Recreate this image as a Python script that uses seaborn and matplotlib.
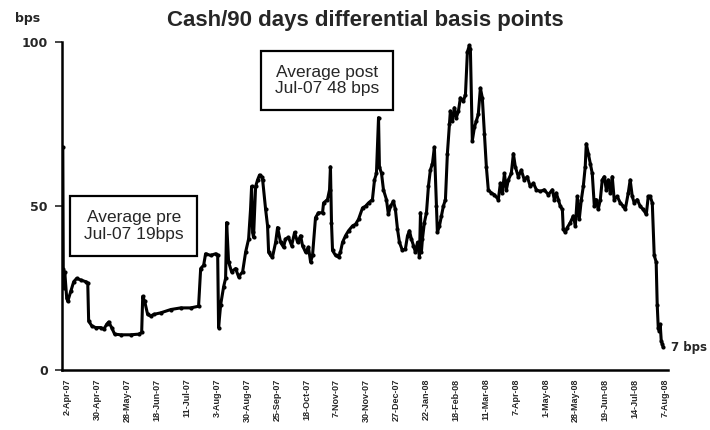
import matplotlib
matplotlib.use("Agg")
import matplotlib.pyplot as plt
import seaborn as sns
import pandas as pd

# trading-day number (0 = 2-Apr-07) and differential in bps
day = [-3.3, -3.0, -2.7, -2.0, -0.7, 0.0, 2.0, 4.0, 6.0, 8.7, 12.0, 13.4, 14.0, 16.1, 18.7,
       22.1, 24.1, 26.1, 27.4, 29.4, 31.4, 35.5, 42.1, 47.5, 49.5, 50.2, 51.5, 53.5, 55.5,
       57.5, 62.3, 69.0, 75.6, 82.3, 87.6, 89.0, 91.0, 92.3, 95.7, 99.0, 100.4, 101.0,
       102.4, 104.4, 105.7, 106.4, 107.7, 109.7, 112.4, 114.4, 117.1, 119.1, 121.1, 122.4,
       123.1, 123.8, 124.4, 125.8, 127.1, 128.4, 129.8, 130.5, 132.5, 133.8, 134.5, 135.8,
       137.1, 139.2, 140.5, 142.5, 144.5, 145.8, 147.8, 149.9, 151.9, 153.9, 155.9, 157.2,
       159.2, 161.2, 162.6, 163.9, 165.9, 167.9, 170.6, 171.3, 173.9, 175.3, 175.9, 176.6,
       177.3, 179.3, 181.3, 182.6, 184.0, 186.0, 188.0, 190.7, 192.7, 194.7, 197.4, 199.4,
       201.4, 204.0, 205.4, 206.7, 208.1, 208.7, 210.1, 211.4, 213.4, 214.7, 216.1, 218.1,
       219.4, 220.8, 222.1, 224.1, 226.1, 227.5, 228.8, 230.1, 231.5, 232.8, 234.2, 235.5,
       236.2, 236.8, 237.5, 238.8, 240.2, 241.5, 242.8, 244.2, 245.5, 246.9, 247.5, 248.9,
       250.2, 251.5, 252.9, 254.2, 255.6, 256.2, 257.6, 258.9, 260.2, 261.6, 262.9, 264.9,
       266.3, 267.6, 268.9, 269.6, 270.9, 272.3, 273.6, 274.9, 276.3, 277.6, 279.0, 280.3,
       281.6, 283.7, 285.7, 288.3, 289.7, 291.0, 292.4, 293.7, 295.0, 297.0, 298.4, 299.7,
       301.7, 303.7, 305.7, 307.7, 309.7, 311.8, 313.8, 316.4, 319.1, 321.8, 324.5, 325.8,
       327.1, 328.5, 329.8, 331.2, 331.8, 333.2, 334.5, 336.5, 338.5, 339.9, 341.2, 342.5,
       343.9, 345.2, 346.5, 347.2, 348.6, 349.9, 351.2, 352.6, 353.9, 355.2, 356.6, 357.9,
       359.3, 360.6, 361.9, 363.3, 364.6, 365.9, 367.9, 370.0, 372.0, 373.3, 375.3, 376.6,
       378.0, 379.3, 381.3, 383.3, 385.3, 387.4, 388.7, 390.0, 391.4, 392.7, 394.0, 394.7,
       395.4, 396.1, 396.7, 397.4, 398.1, 398.7]
bps = [68, 31, 25, 30, 22, 21, 24, 27, 28, 27.5, 27, 26.5, 15, 13.5, 13,
       13, 12.5, 14, 14.7, 13, 11, 10.8, 10.8, 11, 11.5, 22.5, 21, 17, 16.5,
       17, 17.5, 18.5, 19, 19, 19.5, 31, 32, 35.5, 35, 35.5, 35, 13,
       20, 25.5, 28, 45, 33, 30, 31, 28.5, 30, 36, 40, 49,
       56, 42, 40.5, 56, 58, 59.5, 59, 58, 49, 44, 36, 35,
       34.5, 39, 43.5, 39, 37.5, 40, 40.5, 38, 42, 39, 41, 38,
       36, 37.5, 33, 35, 46.5, 48, 48, 51, 52, 55, 62, 45,
       36.5, 35, 34.5, 36, 39, 41, 42.5, 44, 44.5, 46, 49.5, 50,
       51, 52, 58, 60, 77, 62, 60, 55, 52, 47.5, 50, 51.5,
       49, 43, 39, 36.5, 37, 41, 42.5, 40, 38, 36, 39, 34.5,
       48, 36, 40, 45, 48, 56, 61, 63, 68, 50, 42, 44,
       47, 50, 52, 66, 75, 79, 76, 80, 77, 79, 83, 82,
       84, 97, 99, 98, 70, 74, 76, 78, 86, 83, 72, 62,
       55, 54, 53.5, 52, 57, 54, 60, 55, 58, 60, 66, 62,
       59, 61, 58, 59, 56, 57, 55, 54.5, 55, 53.5, 55, 52,
       54, 52, 50, 49, 43, 42, 43.5, 45, 47, 44, 53, 46,
       52, 56, 62, 69, 66, 63, 60, 50, 52, 49, 52, 58,
       59, 55, 58, 54, 59, 52, 53, 51, 50, 49, 54, 58,
       53, 51, 52, 50, 49, 47.5, 53, 53, 51, 35, 33, 20,
       13, 12, 14, 9, 8, 7]

tick_days = list(range(0, 401, 20))
tick_labels = ["2-Apr-07", "30-Apr-07", "28-May-07", "18-Jun-07", "11-Jul-07", "3-Aug-07",
               "30-Aug-07", "25-Sep-07", "18-Oct-07", "7-Nov-07", "30-Nov-07", "27-Dec-07",
               "22-Jan-08", "18-Feb-08", "11-Mar-08", "7-Apr-08", "1-May-08", "28-May-08",
               "19-Jun-08", "14-Jul-08", "7-Aug-08"]

df = pd.DataFrame({"day": day, "bps": bps})

sns.set_style("white")
plt.rcParams["font.family"] = ["Liberation Sans", "DejaVu Sans"]

fig = plt.figure(figsize=(7.1, 4.3), dpi=100)
ax = fig.add_axes([0.087, 0.139, 0.854, 0.763])

sns.lineplot(data=df, x="day", y="bps", ax=ax, color="black", linewidth=2.2,
             marker="o", markersize=3, markeredgewidth=0, sort=False)

ax.set_xlim(-4, 402)
ax.set_ylim(0, 100)
ax.set_yticks([0, 50, 100])
ax.set_yticklabels(["0", "50", "100"], fontsize=9, fontweight="bold",
                   family=["DejaVu Sans"])
ax.set_xticks(tick_days)
ax.set_xticklabels(tick_labels, rotation=90, fontsize=6.5, fontweight="bold")
ax.tick_params(axis="y", direction="out", length=5, width=1.2, left=True, pad=5)
ax.tick_params(axis="x", direction="out", length=0, pad=6)
ax.set_xlabel("")
ax.set_ylabel("")
for s in ["top", "right"]:
    ax.spines[s].set_visible(False)
for s in ["left", "bottom"]:
    ax.spines[s].set_color("black")
    ax.spines[s].set_linewidth(1.8)

fig.text(0.514, 0.953, "Cash/90 days differential basis points", ha="center", va="center",
         fontsize=16, fontweight="bold")
fig.text(0.039, 0.958, "bps", ha="center", va="center", fontsize=9, fontweight="bold",
         family=["DejaVu Sans"])

box = dict(boxstyle="square,pad=0.8", facecolor="white", edgecolor="black", linewidth=1.6)
ax.text(44.2, 43.9, "Average pre\nJul-07 19bps", ha="center", va="center",
        fontsize=12.5, bbox=box, linespacing=1.15)
ax.text(173.9, 88.3, "Average post\nJul-07 48 bps", ha="center", va="center",
        fontsize=12.5, bbox=box, linespacing=1.15)
ax.text(day[-1] + 5, bps[-1], "7 bps", ha="left", va="center", fontsize=8.5,
        fontweight="bold", clip_on=False, family=["DejaVu Sans"])

fig.savefig("out.png", dpi=100)
